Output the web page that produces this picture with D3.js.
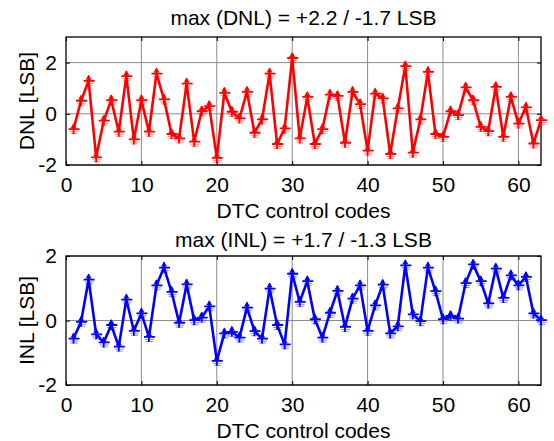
<!DOCTYPE html>
<html><head><meta charset="utf-8">
<script src="https://cdn.jsdelivr.net/npm/d3@7"></script>
<style>body{margin:0;background:#fff}svg{display:block}text{font-family:"Liberation Sans",Arial,sans-serif;fill:#000}</style>
</head><body>
<script>
const codes = d3.range(1, 64);
const dnl = [-0.6,0.51,1.29,-1.70,-0.27,0.53,-0.70,1.47,-1.0,0.53,-0.70,1.57,0.56,-0.79,-0.96,1.18,-1.09,0.10,0.30,-1.72,
 0.82,0.08,-0.18,0.86,-0.74,-0.22,1.57,-1.18,-0.57,2.18,-0.96,0.66,-1.18,-0.60,0.75,0.70,-1.13,0.86,0.38,-1.44,
 0.79,0.60,-1.57,0.21,1.86,-1.52,-0.22,1.64,-0.79,-0.90,0.10,-0.05,1.03,0.53,-0.51,-0.68,1.05,-0.90,0.66,-0.38,
 0.25,-1.16,-0.25];
const inl = [-0.56,-0.04,1.27,-0.43,-0.68,-0.14,-0.81,0.65,-0.32,0.22,-0.51,1.09,1.64,0.89,-0.07,1.12,0.01,0.09,0.44,-1.25,
 -0.40,-0.35,-0.53,0.40,-0.33,-0.56,0.99,-0.14,-0.74,1.45,0.58,1.22,0.04,-0.53,0.24,0.92,-0.20,0.68,1.09,-0.32,
 0.47,1.11,-0.40,-0.18,1.71,0.19,-0.02,1.64,0.91,0.04,0.14,0.06,1.16,1.74,1.22,0.53,1.61,0.70,1.40,1.09,
 1.35,0.22,0.01];
const xTicks = [0,10,20,30,40,50,60];
const yTicks = [-2,0,2];

const W = 554, H = 441;
const FS = "21px";
const svg = d3.select("body").append("svg").attr("width", W).attr("height", H);
const x = d3.scaleLinear().domain([0, 63]).range([66, 541]);

function panel(cfg) {
  const y = d3.scaleLinear().domain(cfg.ydom).range([cfg.bottom, cfg.top]);
  const g = svg.append("g");
  g.selectAll(".gx").data(xTicks.filter(t => t > 0)).enter().append("line")
    .attr("x1", d => x(d)).attr("x2", d => x(d)).attr("y1", cfg.top).attr("y2", cfg.bottom)
    .attr("stroke", "#8c8c8c").attr("stroke-width", 1);
  g.selectAll(".gy").data(yTicks).enter().append("line")
    .attr("y1", d => y(d)).attr("y2", d => y(d)).attr("x1", x(0)).attr("x2", x(63))
    .attr("stroke", "#8c8c8c").attr("stroke-width", 1);
  const gb = g.append("g").attr("transform", `translate(0,${cfg.bottom})`)
    .call(d3.axisBottom(x).tickValues(xTicks).tickSize(-4).tickPadding(12));
  const gt = g.append("g").attr("transform", `translate(0,${cfg.top})`)
    .call(d3.axisTop(x).tickValues(xTicks).tickSize(-4).tickFormat(""));
  const gl = g.append("g").attr("transform", `translate(${x(0)},0)`)
    .call(d3.axisLeft(y).tickValues(yTicks).tickSize(-4).tickPadding(9));
  const gr = g.append("g").attr("transform", `translate(${x(63)},0)`)
    .call(d3.axisRight(y).tickValues(yTicks).tickSize(-4).tickFormat(""));
  [gb, gt, gl, gr].forEach(a => {
    a.select(".domain").remove();
    a.selectAll("line").attr("stroke", "#000");
    a.selectAll("text").style("font-size", FS).style("font-family", '"Liberation Sans",Arial,sans-serif');
  });
  gl.selectAll("text").text(d => d < 0 ? "-" + Math.abs(d) : d);
  g.append("rect").attr("x", x(0)).attr("y", cfg.top).attr("width", x(63) - x(0)).attr("height", cfg.bottom - cfg.top)
    .attr("fill", "none").attr("stroke", "#000").attr("stroke-width", 1.3);
  const line = d3.line().x((d, i) => x(codes[i])).y(d => y(d));
  g.append("path").datum(cfg.data).attr("d", line).attr("fill", "none")
    .attr("stroke", cfg.color).attr("stroke-width", 2.6).attr("stroke-linejoin", "round");
  const mg = g.selectAll(".mk").data(cfg.data).enter().append("g")
    .attr("transform", (d, i) => `translate(${x(codes[i])},${y(d)})`);
  mg.append("path").attr("d", "M0,-6L-3,-1L3,-1Z").attr("fill", cfg.color);
  mg.append("path").attr("d", "M0,-5V5M-5,0H6").attr("stroke", cfg.color).attr("stroke-width", 1.8).attr("fill", "none");
  mg.append("path").attr("d", "M-4,2.5H5M-3,4.5H4").attr("stroke", cfg.color).attr("stroke-width", 1).attr("opacity", 0.45).attr("fill", "none");
  svg.append("text").attr("x", (x(0) + x(63)) / 2).attr("y", cfg.titleY).attr("text-anchor", "middle")
    .style("font-size", FS).text(cfg.title);
  svg.append("text").attr("x", (x(0) + x(63)) / 2).attr("y", cfg.bottom + 53).attr("text-anchor", "middle")
    .style("font-size", FS).text("DTC control codes");
  svg.append("text").attr("transform", `translate(34,${(cfg.top + cfg.bottom) / 2}) rotate(-90)`).attr("text-anchor", "middle")
    .style("font-size", FS).text(cfg.ylabel);
}

panel({top: 37, bottom: 165, ydom: [-2, 3], data: dnl, color: "#ff0000", titleY: 25,
  title: "max (DNL) = +2.2 / -1.7 LSB", ylabel: "DNL [LSB]"});
panel({top: 256, bottom: 385, ydom: [-2, 2], data: inl, color: "#0000ff", titleY: 247,
  title: "max (INL) = +1.7 / -1.3 LSB", ylabel: "INL [LSB]"});
</script>
</body></html>
